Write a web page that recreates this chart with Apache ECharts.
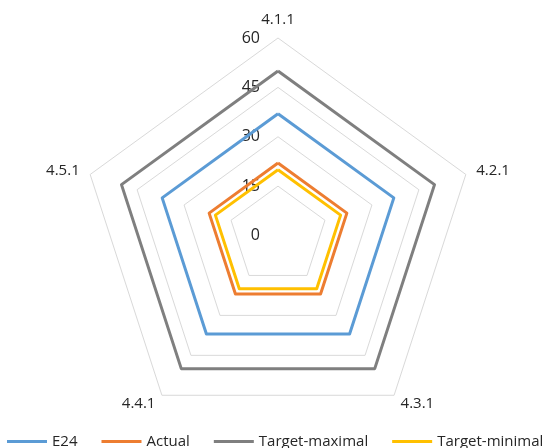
<!DOCTYPE html>
<html>
<head>
<meta charset="utf-8">
<script src="https://cdn.jsdelivr.net/npm/echarts@6/dist/echarts.min.js"></script>
<style>
html,body{margin:0;padding:0;background:#fff;}
#chart{width:553px;height:448px;}
</style>
</head>
<body>
<div id="chart"></div>
<script>
// Categories in reference order (clockwise from top)
var categories = ['4.1.1', '4.2.1', '4.3.1', '4.4.1', '4.5.1'];
var seriesNames = ['E24', 'Actual', 'Target-maximal', 'Target-minimal'];
var e24 = [37, 37, 37, 37, 37];
var actual = [22, 22, 22, 22, 22];
var targetMax = [50, 50, 50, 50, 50];
var targetMin = [20, 20, 20, 20, 20];
var axisMax = 60;
var tickLabels = ['0', '15', '30', '45', '60'];

var colors = ['#5B9BD5', '#ED7D31', '#7F7F7F', '#FFC000'];
var textColor = '#262626';
var font = '"Open Sans", "DejaVu Sans", sans-serif';

// ECharts lays indicators counter-clockwise; reorder for clockwise look
var order = [0, 4, 3, 2, 1];
function reorder(arr) { return order.map(function (i) { return arr[i]; }); }

var nameStyle = { color: textColor, fontSize: 15, fontFamily: font };

var indicators = order.map(function (i, k) {
  return {
    name: categories[i],
    max: axisMax,
    min: 0,
    nameTextStyle: nameStyle,
    axisLabel: {
      show: k === 0,
      margin: 16,
      padding: [6, 2, 0, 0],
      color: textColor,
      fontSize: 16,
      fontFamily: font,
      formatter: function (v) { return tickLabels[Math.round(v / 15)] || String(v); }
    }
  };
});

var dataSets = [e24, actual, targetMax, targetMin];

var chart = echarts.init(document.getElementById('chart'), null, { renderer: 'canvas' });
chart.setOption({
  animation: false,
  backgroundColor: '#fff',
  color: colors,
  legend: {
    data: seriesNames,
    left: 7,
    top: 434,
    width: 546,
    padding: 0,
    icon: 'rect',
    itemWidth: 40,
    itemHeight: 3,
    itemGap: 24,
    textStyle: { color: textColor, fontSize: 15, fontFamily: font }
  },
  radar: {
    center: [278, 235.5],
    radius: 197.5,
    startAngle: 90,
    splitNumber: 4,
    shape: 'polygon',
    nameGap: 11,
    axisName: nameStyle,
    axisLine: { show: false },
    axisTick: { show: false },
    splitArea: { show: false },
    splitLine: { lineStyle: { color: '#D9D9D9', width: 1 } },
    indicator: indicators
  },
  series: [{
    type: 'radar',
    symbol: 'none',
    data: dataSets.map(function (d, i) {
      return {
        name: seriesNames[i],
        value: reorder(d),
        lineStyle: { color: colors[i], width: 3 },
        itemStyle: { color: colors[i] }
      };
    })
  }]
});
</script>
</body>
</html>
